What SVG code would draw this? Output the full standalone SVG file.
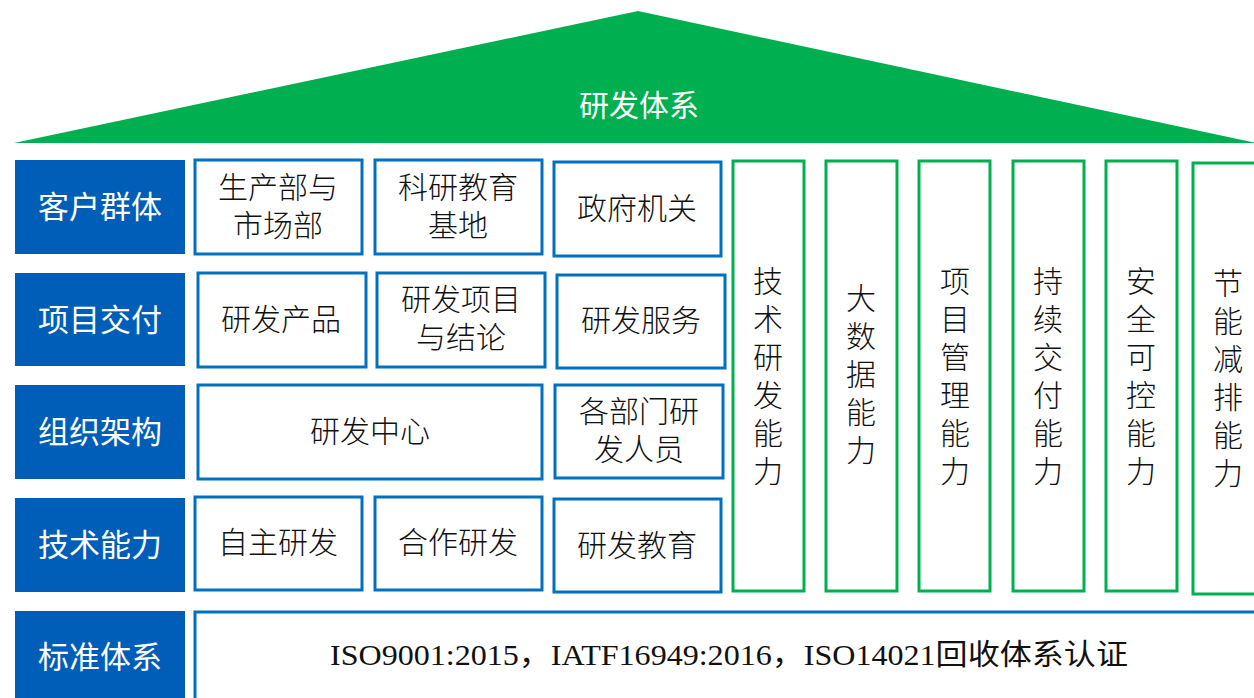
<svg xmlns="http://www.w3.org/2000/svg" width="1254" height="698" viewBox="0 0 1254 698">
<style>
.lab{fill:#005EB8}
.lt{fill:#fff;font-family:"Noto Sans CJK SC","Noto Sans",sans-serif;font-size:31px;text-anchor:middle;dominant-baseline:central}
.bx{fill:#fff;stroke:#0070C0;stroke-width:3}
.gx{fill:#fff;stroke:#00B050;stroke-width:3}
.t{fill:#111;font-family:"Noto Sans CJK SC","Noto Sans",sans-serif;font-size:30px;text-anchor:middle;dominant-baseline:central;font-weight:300}
.iso{fill:#111;font-family:"Liberation Serif","Noto Sans CJK SC",serif;font-size:29px;text-anchor:middle;dominant-baseline:central}
</style>
<rect width="1254" height="698" fill="#fff"/>
<g id="roof">
<polygon points="638,11 14,143 1256,143" fill="#00B050"/>
<text class="lt" x="639" y="103" style="font-size:30px">研发体系</text>
</g>
<g id="labels">
<g id="lab1"><rect class="lab" x="15" y="160" width="170" height="94"/><text class="lt" x="100" y="204">客户群体</text></g>
<g id="lab2"><rect class="lab" x="15" y="273" width="170" height="93"/><text class="lt" x="100" y="317">项目交付</text></g>
<g id="lab3"><rect class="lab" x="15" y="385" width="170" height="94"/><text class="lt" x="100" y="429">组织架构</text></g>
<g id="lab4"><rect class="lab" x="15" y="498" width="170" height="94"/><text class="lt" x="100" y="542">技术能力</text></g>
<g id="lab5"><rect class="lab" x="15" y="611" width="170" height="90"/><text class="lt" x="100" y="654">标准体系</text></g>
</g>
<g id="row1">
<g id="n11"><rect class="bx" x="195" y="160" width="167" height="94"/><text class="t" x="278" y="185">生产部与</text><text class="t" x="278" y="223">市场部</text></g>
<g id="n12"><rect class="bx" x="375" y="160" width="167" height="94"/><text class="t" x="458" y="185">科研教育</text><text class="t" x="458" y="223">基地</text></g>
<g id="n13"><rect class="bx" x="554" y="162" width="167" height="94"/><text class="t" x="637" y="206">政府机关</text></g>
</g>
<g id="row2">
<g id="n21"><rect class="bx" x="198" y="273" width="168" height="94"/><text class="t" x="281" y="317">研发产品</text></g>
<g id="n22"><rect class="bx" x="377" y="273" width="168" height="94"/><text class="t" x="461" y="297">研发项目</text><text class="t" x="461" y="335">与结论</text></g>
<g id="n23"><rect class="bx" x="557" y="275" width="168" height="93"/><text class="t" x="641" y="318">研发服务</text></g>
</g>
<g id="row3">
<g id="n31"><rect class="bx" x="198" y="385" width="344" height="94"/><text class="t" x="370" y="429">研发中心</text></g>
<g id="n32"><rect class="bx" x="555" y="385" width="168" height="93"/><text class="t" x="639" y="409">各部门研</text><text class="t" x="639" y="447">发人员</text></g>
</g>
<g id="row4">
<g id="n41"><rect class="bx" x="195" y="497" width="167" height="93"/><text class="t" x="278" y="540">自主研发</text></g>
<g id="n42"><rect class="bx" x="375" y="497" width="167" height="93"/><text class="t" x="458" y="540">合作研发</text></g>
<g id="n43"><rect class="bx" x="554" y="499" width="167" height="93"/><text class="t" x="637" y="543">研发教育</text></g>
</g>
<g id="columns">
<g id="c1"><rect class="gx" x="733" y="161" width="71" height="430"/>
<text class="t"><tspan x="768" y="279">技</tspan><tspan x="768" y="317">术</tspan><tspan x="768" y="355">研</tspan><tspan x="768" y="393">发</tspan><tspan x="768" y="431">能</tspan><tspan x="768" y="469">力</tspan></text></g>
<g id="c2"><rect class="gx" x="826" y="161" width="71" height="430"/>
<text class="t"><tspan x="861" y="296">大</tspan><tspan x="861" y="334">数</tspan><tspan x="861" y="372">据</tspan><tspan x="861" y="410">能</tspan><tspan x="861" y="448">力</tspan></text></g>
<g id="c3"><rect class="gx" x="919" y="161" width="71" height="430"/>
<text class="t"><tspan x="955" y="279">项</tspan><tspan x="955" y="317">目</tspan><tspan x="955" y="355">管</tspan><tspan x="955" y="393">理</tspan><tspan x="955" y="431">能</tspan><tspan x="955" y="469">力</tspan></text></g>
<g id="c4"><rect class="gx" x="1013" y="161" width="71" height="430"/>
<text class="t"><tspan x="1048" y="279">持</tspan><tspan x="1048" y="317">续</tspan><tspan x="1048" y="355">交</tspan><tspan x="1048" y="393">付</tspan><tspan x="1048" y="431">能</tspan><tspan x="1048" y="469">力</tspan></text></g>
<g id="c5"><rect class="gx" x="1106" y="161" width="71" height="430"/>
<text class="t"><tspan x="1141" y="279">安</tspan><tspan x="1141" y="317">全</tspan><tspan x="1141" y="355">可</tspan><tspan x="1141" y="393">控</tspan><tspan x="1141" y="431">能</tspan><tspan x="1141" y="469">力</tspan></text></g>
<g id="c6"><rect class="gx" x="1193" y="163" width="75" height="431"/>
<text class="t"><tspan x="1228" y="281">节</tspan><tspan x="1228" y="319">能</tspan><tspan x="1228" y="357">减</tspan><tspan x="1228" y="395">排</tspan><tspan x="1228" y="433">能</tspan><tspan x="1228" y="471">力</tspan></text></g>
</g>
<g id="std">
<rect class="bx" x="195" y="612" width="1070" height="100"/>
<text class="iso" x="729" y="655" textLength="798" lengthAdjust="spacingAndGlyphs">ISO9001:2015，IATF16949:2016，ISO14021回收体系认证</text>
</g>
<g id="connectors"></g>
</svg>
